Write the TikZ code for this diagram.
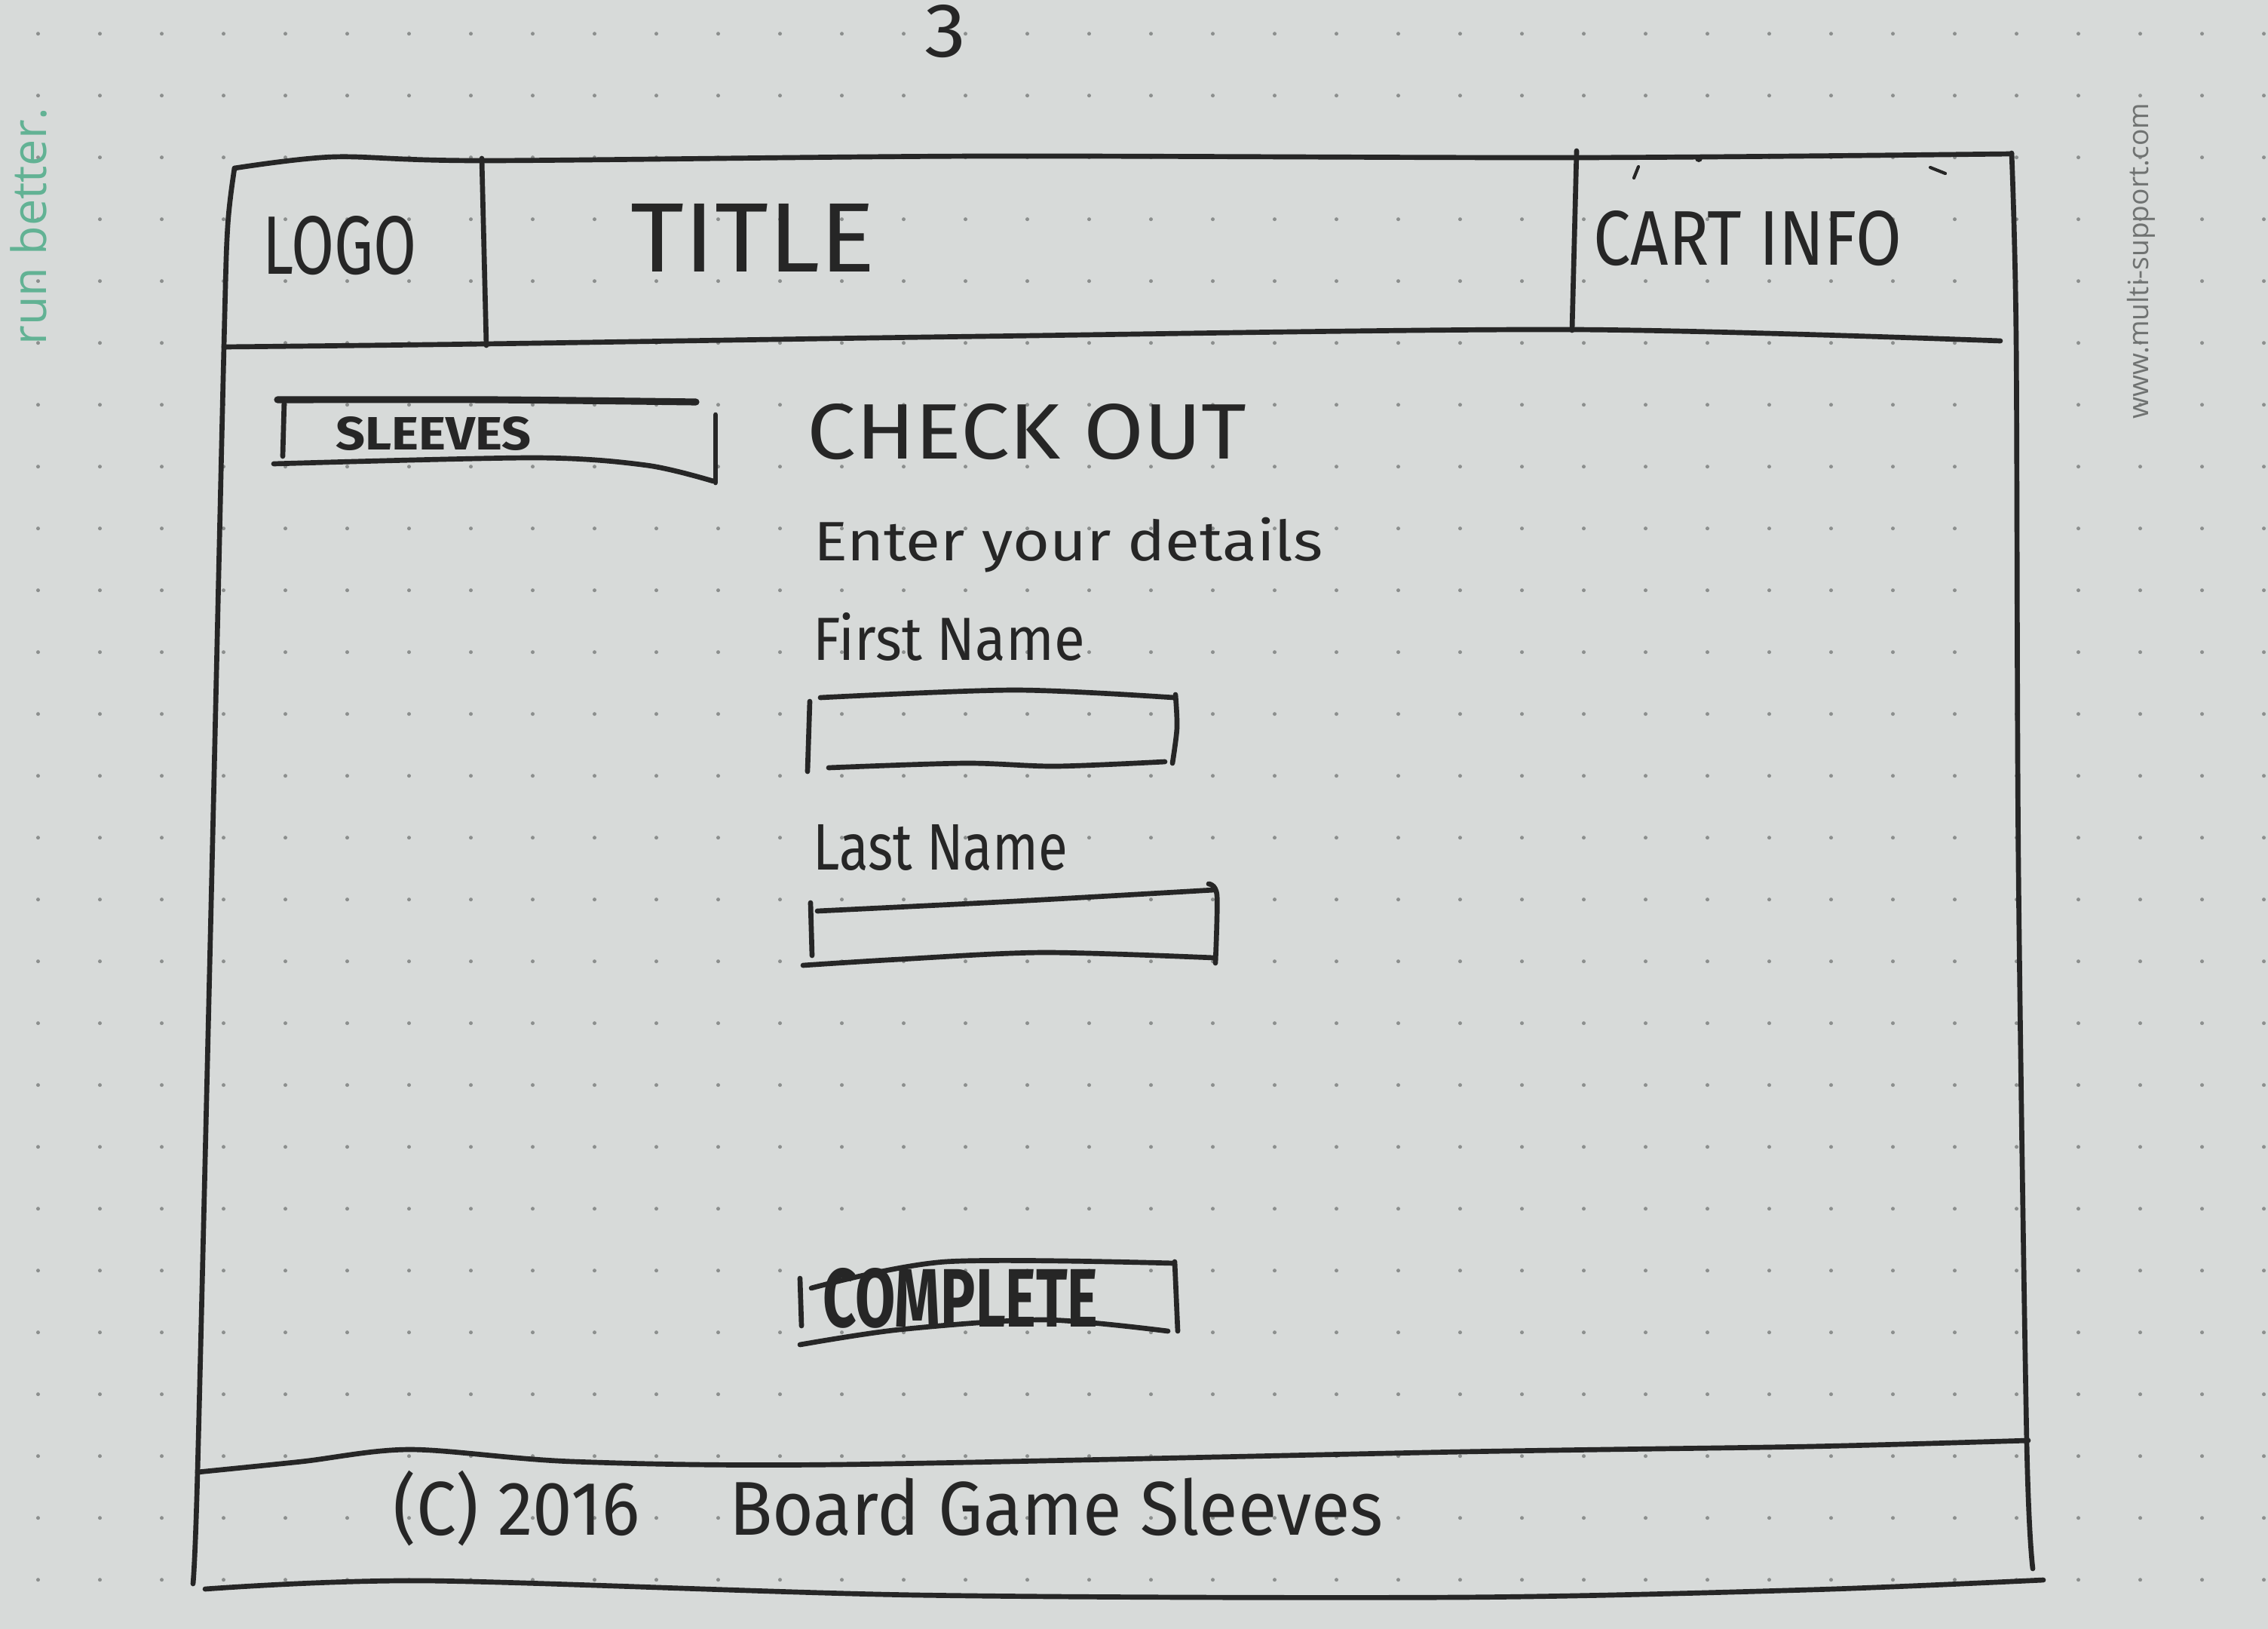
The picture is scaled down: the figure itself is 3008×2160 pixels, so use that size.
\documentclass[tikz,border=0pt]{standalone}
\usepackage{fontspec}
\usepackage{graphicx}
\setmainfont{Fira Sans}
\newfontfamily\brandfont{Open Sans}
\definecolor{paper}{HTML}{D7DAD9}
\definecolor{ink}{HTML}{262626}
\definecolor{dotgrey}{HTML}{8C8F8E}
\definecolor{brandgreen}{HTML}{62B294}
\definecolor{urlgrey}{HTML}{6F7271}
\tikzset{
  penline/.style={draw=ink,line width=1.9pt,line cap=round,line join=round},
  hand/.style={inner sep=0pt,text=ink},
  margintext/.style={inner sep=0pt,rotate=90}
}
\begin{document}
\begin{tikzpicture}[x=0.01cm,y=-0.01cm]
\fill[paper] (0,0) rectangle (3008,2160);
\useasboundingbox (0,0) rectangle (3008,2160);
% dotted paper
\foreach \i in {0,...,36}
  \foreach \j in {0,...,25}
    \fill[dotgrey] (50.5+82*\i,44.7+82*\j) circle (0.025cm);

% page frame
\draw[penline] plot[smooth] coordinates {(311,223) (443,208) (644,213) (1300,207) (2090,209) (2668,204)};
\draw[penline] plot[smooth] coordinates {(311,223) (302,300) (297,460) (280,1200) (262,1952) (256,2100)};
\draw[penline] plot[smooth] coordinates {(2668,203) (2674,450) (2677,1150) (2688,1912) (2696,2080)};
\draw[penline] plot[smooth] coordinates {(272,2107) (565,2096) (1216,2115) (1932,2118) (2400,2108) (2710,2095)};

% header
\draw[penline] plot[smooth] coordinates {(297,460) (643,456) (1300,446) (2087,437) (2653,452)};
\draw[penline] (639,210) -- (645,458);
\draw[penline] (2091,200) -- (2085,438);
\draw[penline,line width=1.2pt] (2167,236) -- (2173,221);
\draw[penline,line width=1.2pt] (2560,222) -- (2580,230);
\fill[ink] (2253,210) circle (0.05cm);

% footer
\draw[penline] plot[smooth] coordinates {(262,1952) (400,1938) (544,1922) (760,1938) (1108,1942) (1940,1925) (2400,1918) (2690,1910)};

% sleeves button
\draw[penline,line width=2.6pt] plot[smooth] coordinates {(368,530) (650,530) (923,533)};
\draw[penline] (377,530) -- (375,605);
\draw[penline] plot[smooth] coordinates {(363,615) (710,607) (858,617) (946,638)};
\draw[penline] (949,550) -- (949,640);

% first name field
\draw[penline] plot[smooth] coordinates {(1088,925) (1346,915) (1557,925)};
\draw[penline] (1074,930) -- (1071,1023);
\draw[penline] plot[smooth] coordinates {(1559,921) (1561,965) (1555,1012)};
\draw[penline] plot[smooth] coordinates {(1099,1018) (1280,1012) (1400,1016) (1545,1010)};

% last name field
\draw[penline] plot[smooth] coordinates {(1084,1208) (1346,1195) (1610,1180)};
\draw[penline] (1075,1197) -- (1077,1267);
\draw[penline] plot[smooth] coordinates {(1603,1172) (1614,1187) (1612,1277)};
\draw[penline] plot[smooth] coordinates {(1065,1280) (1193,1272) (1384,1263) (1610,1270)};

% complete button
\draw[penline] plot[smooth] coordinates {(1076,1708) (1254,1673) (1557,1675)};
\draw[penline] (1061,1695) -- (1063,1758);
\draw[penline] (1558,1673) -- (1562,1765);
\draw[penline] plot[smooth] coordinates {(1061,1783) (1193,1763) (1384,1750) (1549,1765)};

% texts
\node[hand] (pagenum) at (1254,42) {\resizebox{0.55cm}{0.69cm}{3}};
\node[hand] (logo) at (451,326) {\resizebox{2.04cm}{0.77cm}{LOGO}};
\node[hand] (title) at (999,315) {\resizebox{3.24cm}{0.90cm}{TITLE}};
\node[hand] (cart) at (2318,316) {\resizebox{4.09cm}{0.72cm}{CART INFO}};
\node[hand] (sleeves) at (575,575) {\resizebox{2.59cm}{0.44cm}{\bfseries SLEEVES}};
\node[hand] (checkout) at (1362,573) {\resizebox{5.83cm}{0.73cm}{CHECK OUT}};
\node[hand] (details) at (1417,723) {\resizebox*{6.75cm}{0.73cm}{Enter your details}};
\node[hand,anchor=base west] (first) at (1078,875) {\resizebox{3.6cm}{0.63cm}{First Name}};
\node[hand,anchor=base west] (last) at (1078,1153) {\resizebox{3.37cm}{0.60cm}{Last Name}};
\node[hand] (complete) at (1274,1721) {\resizebox{3.65cm}{0.78cm}{\bfseries COMPLETE}};
\node[hand] (copyright) at (1178,2000) {\resizebox*{13.12cm}{1.0cm}{(C) 2016\hspace{1em} Board Game Sleeves}};

% printed margins of the pad
\node[margintext,text=brandgreen] (brand) at (38,300) {\resizebox{3.15cm}{!}{\brandfont run better.}};
\node[margintext,text=urlgrey] (url) at (2840,346) {\resizebox{4.18cm}{!}{\brandfont www.multi-support.com}};
\end{tikzpicture}
\end{document}
